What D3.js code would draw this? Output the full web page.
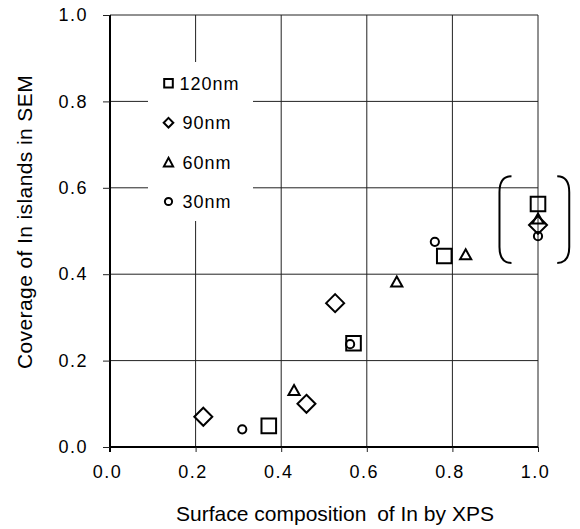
<!DOCTYPE html>
<html>
<head>
<meta charset="utf-8">
<script src="https://cdn.jsdelivr.net/npm/d3@7"></script>
<style>
  body { margin: 0; background: #fff; }
  text { font-family: 'Liberation Sans', Arial, sans-serif; fill: #000; }
</style>
</head>
<body>
<svg id="chart" width="580" height="529"></svg>
<script>
// series (x = XPS composition, y = SEM coverage)
const labels = ['120nm', '90nm', '60nm', '30nm']
const shapes = ['square', 'diamond', 'triangle', 'circle']
const x120 = [0.371, 0.569, 0.781, 1.0]
const y120 = [0.049, 0.240, 0.442, 0.5625]
const x90 = [0.218, 0.459, 0.526, 1.0]
const y90 = [0.070, 0.100, 0.333, 0.514]
const x60 = [0.430, 0.670, 0.831, 1.0]
const y60 = [0.132, 0.383, 0.446, 0.529]
const x30 = [0.309, 0.561, 0.759, 1.0]
const y30 = [0.041, 0.238, 0.475, 0.488]
const xTicks = [0.0, 0.2, 0.4, 0.6, 0.8, 1.0]
const yTicks = [0.0, 0.2, 0.4, 0.6, 0.8, 1.0]
// bracket around the x = 1.0 group, in data units
const bracketX = [0.91, 1.073]
const bracketY = [0.426, 0.627]

const series = [
  { label: labels[0], shape: shapes[0], xs: x120, ys: y120 },
  { label: labels[1], shape: shapes[1], xs: x90, ys: y90 },
  { label: labels[2], shape: shapes[2], xs: x60, ys: y60 },
  { label: labels[3], shape: shapes[3], xs: x30, ys: y30 },
]

const margin = { top: 15, left: 110 }
const width = 428
const height = 432

const svg = d3.select('#chart')
const g = svg.append('g').attr('transform', `translate(${margin.left},${margin.top})`)

const x = d3.scaleLinear().domain([0, 1]).range([0, width])
const y = d3.scaleLinear().domain([0, 1]).range([height, 0])

// marker paths, centred on the bounding box
const markerPath = (shape, big) => {
  const p = d3.path()
  if (shape === 'square') {
    const h = big ? 7.3 : 4.3
    p.rect(-h, -h, 2 * h, 2 * h)
  } else if (shape === 'diamond') {
    const h = big ? 9 : 4.8
    p.moveTo(0, -h); p.lineTo(h, 0); p.lineTo(0, h); p.lineTo(-h, 0); p.closePath()
  } else if (shape === 'triangle') {
    const w = big ? 5.6 : 4.6
    const hh = big ? 5 : 4.3
    p.moveTo(0, -hh); p.lineTo(w, hh); p.lineTo(-w, hh); p.closePath()
  } else {
    const r = big ? 4.1 : 3.6
    p.moveTo(r, 0); p.arc(0, 0, r, 0, 2 * Math.PI)
  }
  return p.toString()
}

// grid lines
g.append('g').selectAll('line')
  .data(xTicks.filter(d => d > 0))
  .join('line')
  .attr('x1', d => x(d)).attr('x2', d => x(d))
  .attr('y1', y(1)).attr('y2', y(0))
  .attr('stroke', '#222').attr('stroke-width', 1)
g.append('g').selectAll('line')
  .data(yTicks.filter(d => d > 0))
  .join('line')
  .attr('x1', x(0)).attr('x2', x(1))
  .attr('y1', d => y(d)).attr('y2', d => y(d))
  .attr('stroke', '#222').attr('stroke-width', 1)

// axes
const xAxis = g.append('g')
  .attr('transform', `translate(0,${height})`)
  .call(d3.axisBottom(x).tickValues(xTicks).tickFormat(d3.format('.1f')).tickSize(5).tickPadding(13))
const yAxis = g.append('g')
  .call(d3.axisLeft(y).tickValues(yTicks).tickFormat(d3.format('.1f')).tickSize(7).tickPadding(15))
xAxis.select('.domain').attr('stroke', '#000').attr('stroke-width', 2).attr('d', `M0,0H${width}`)
yAxis.select('.domain').attr('stroke', '#000').attr('stroke-width', 2).attr('d', `M0,0V${height + 5}`)
for (const ax of [xAxis, yAxis]) {
  ax.attr('font-family', null)
  ax.selectAll('.tick line').attr('stroke', '#222')
  ax.selectAll('.tick text').attr('font-size', 18).attr('letter-spacing', 1.5)
}
xAxis.selectAll('.tick text').attr('dx', -3)

// legend (white box hides the grid behind it)
const legend = g.append('g')
legend.append('rect')
  .attr('x', 38).attr('y', 47).attr('width', 105).attr('height', 159)
  .attr('fill', '#fff')
const items = legend.selectAll('g.item')
  .data(series)
  .join('g')
  .attr('class', 'item')
  .attr('transform', (d, i) => `translate(58.5,${68.3 + i * 39.4})`)
items.append('path')
  .attr('d', d => markerPath(d.shape, false))
  .attr('fill', '#fff').attr('stroke', '#000').attr('stroke-width', 2)
items.append('text')
  .attr('x', (d, i) => (i === 0 ? 11 : 14))
  .attr('dy', '0.36em')
  .attr('font-size', 18)
  .attr('letter-spacing', 1)
  .text(d => d.label)

// points
const points = series.flatMap(s => s.xs.map((v, i) => ({ shape: s.shape, x: v, y: s.ys[i] })))
g.append('g').selectAll('path')
  .data(points)
  .join('path')
  .attr('transform', d => `translate(${x(d.x)},${y(d.y)})`)
  .attr('d', d => markerPath(d.shape, true))
  .attr('fill', 'none').attr('stroke', '#000').attr('stroke-width', 2)

// brackets
const bx0 = x(bracketX[0])
const bx1 = x(bracketX[1])
const by0 = y(bracketY[1])
const by1 = y(bracketY[0])
const bw = 12
const br = 16
const bracket = (xEdge, dir) => {
  const p = d3.path()
  p.moveTo(xEdge + dir * bw, by0)
  p.quadraticCurveTo(xEdge, by0, xEdge, by0 + br)
  p.lineTo(xEdge, by1 - br)
  p.quadraticCurveTo(xEdge, by1, xEdge + dir * bw, by1)
  return p.toString()
}
g.append('path').attr('d', bracket(bx0, 1))
  .attr('fill', 'none').attr('stroke', '#000').attr('stroke-width', 2)
g.append('path').attr('d', bracket(bx1, -1))
  .attr('fill', 'none').attr('stroke', '#000').attr('stroke-width', 2)

// axis titles
const xTitle = svg.append('text')
  .attr('x', 335).attr('y', 521)
  .attr('text-anchor', 'middle').attr('font-size', 21)
xTitle.append('tspan').text('Surface composition')
xTitle.append('tspan').attr('dx', 5).text(' of In by XPS')
svg.append('text')
  .attr('transform', 'translate(32,222) rotate(-90)')
  .attr('text-anchor', 'middle').attr('font-size', 21)
  .attr('letter-spacing', 0.4)
  .text('Coverage of In islands in SEM')
</script>
</body>
</html>
